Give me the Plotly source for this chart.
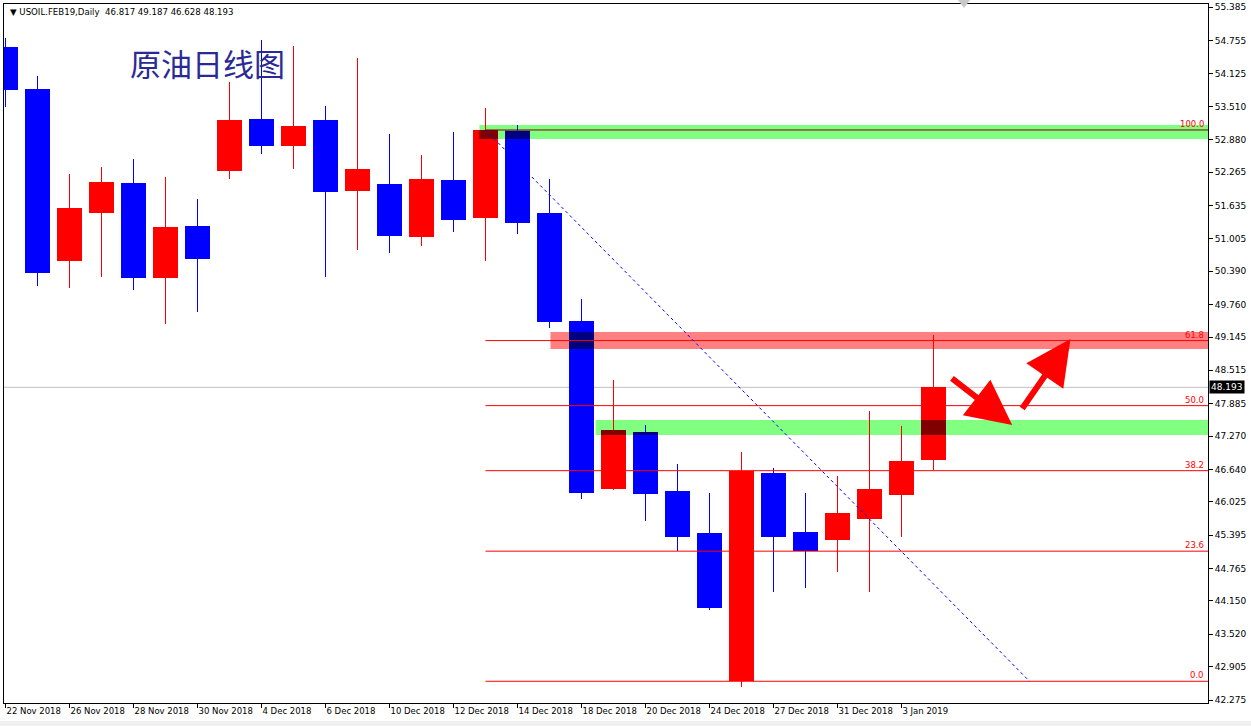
import plotly.graph_objects as go

# ---------------- data ----------------
SYMBOL = "USOIL.FEB19,Daily"
TITLE_CN = "原油日线图"
DATES = ["22 Nov 2018", "23 Nov 2018", "26 Nov 2018", "27 Nov 2018", "28 Nov 2018",
         "29 Nov 2018", "30 Nov 2018", "3 Dec 2018", "4 Dec 2018", "5 Dec 2018",
         "6 Dec 2018", "7 Dec 2018", "10 Dec 2018", "11 Dec 2018", "12 Dec 2018",
         "13 Dec 2018", "14 Dec 2018", "17 Dec 2018", "18 Dec 2018", "19 Dec 2018",
         "20 Dec 2018", "21 Dec 2018", "24 Dec 2018", "26 Dec 2018", "27 Dec 2018",
         "28 Dec 2018", "31 Dec 2018", "2 Jan 2019", "3 Jan 2019", "4 Jan 2019"]
OPEN = [54.639, 53.839, 50.589, 51.498, 52.060, 50.268, 51.246, 52.293, 53.271, 52.766,
        53.252, 51.914, 52.041, 51.044, 52.117, 51.403, 53.050, 51.492, 49.448, 46.275,
        47.348, 46.231, 45.436, 42.630, 46.572, 45.455, 45.309, 45.707, 46.161, 46.817]
HIGH = [54.798, 54.085, 52.230, 52.363, 52.514, 52.173, 51.757, 53.971, 54.766, 54.653,
        53.517, 54.426, 52.987, 52.590, 53.025, 53.479, 53.158, 52.136, 49.865, 48.332,
        47.480, 46.742, 46.193, 46.969, 46.666, 46.193, 46.515, 47.745, 47.461, 49.187]
LOW = [53.504, 50.111, 50.078, 50.281, 50.041, 49.397, 49.624, 52.141, 52.614, 52.330,
       50.281, 50.798, 50.741, 50.873, 51.138, 50.589, 51.100, 49.321, 46.085, 46.250,
       45.663, 45.096, 43.973, 42.527, 44.325, 44.401, 44.704, 44.325, 45.366, 46.628]
CLOSE = [53.820, 50.362, 51.587, 52.079, 50.268, 51.227, 50.627, 53.252, 52.766, 53.139,
         51.895, 52.325, 51.063, 52.136, 51.365, 53.063, 51.309, 49.435, 46.199, 47.385,
         46.180, 45.366, 44.017, 46.604, 45.366, 45.096, 45.815, 46.269, 46.799, 48.193]

Y_TICKS = [55.385, 54.755, 54.125, 53.510, 52.880, 52.265, 51.635, 51.005, 50.390,
           49.760, 49.145, 48.515, 47.885, 47.270, 46.640, 46.025, 45.395, 44.765,
           44.150, 43.520, 42.905, 42.275]

# Fibonacci retracement (anchor bars / prices)
FIB_START_IDX, FIB_END_IDX = 15, 32
FIB_HIGH, FIB_LOW = 53.063, 42.630
FIB_LEVELS = [0.0, 23.6, 38.2, 50.0, 61.8, 100.0]

# zones drawn on chart: (start bar, low price, high price, colour)
ZONES = [(14.81, 52.893, 53.158, (128, 255, 128)),
         (17.03, 48.918, 49.240, (255, 128, 128)),
         (18.44, 47.291, 47.575, (128, 255, 128))]

# hand-drawn arrows: (tail x, tail y, tip x, tip y)
ARROWS = [(29.53, 48.383, 31.46, 47.48),
          (31.74, 47.764, 33.28, 49.107)]

# ---------------- layout constants ----------------
W, H = 1251, 726
ML, MR, MT, MB = 4, 43, 4, 23
PW = W - ML - MR
PH = H - MT - MB
BAR_PX = 32.0
X0 = -1.5 / BAR_PX
X_RANGE = [X0, X0 + PW / BAR_PX]
Y_RANGE = [42.219, 55.447]
BODY_W = 25 / BAR_PX
WICK_W = 1 / BAR_PX

UP = (255, 0, 0)
DOWN = (0, 0, 255)


def rgb(c):
    return "rgb(%d,%d,%d)" % c


n = len(OPEN)
idx = list(range(n))
cols = [UP if CLOSE[i] >= OPEN[i] else DOWN for i in idx]
body_lo = [min(OPEN[i], CLOSE[i]) for i in idx]
body_hi = [max(OPEN[i], CLOSE[i]) for i in idx]

fig = go.Figure()

# wicks
fig.add_trace(go.Bar(
    x=idx, base=LOW, y=[HIGH[i] - LOW[i] for i in idx], width=WICK_W,
    marker=dict(color=[rgb(c) for c in cols], line=dict(width=0)),
    hoverinfo="skip", showlegend=False))
# bodies
fig.add_trace(go.Bar(
    x=idx, base=body_lo, y=[body_hi[i] - body_lo[i] for i in idx], width=BODY_W,
    marker=dict(color=[rgb(c) for c in cols], line=dict(width=0)),
    hoverinfo="skip", showlegend=False))

shapes = []
x_end = X_RANGE[1]

# current price line
shapes.append(dict(type="line", xref="paper", yref="y", x0=0, x1=1,
                   y0=CLOSE[-1], y1=CLOSE[-1], layer="below",
                   line=dict(color="#c0c0c0", width=1)))

# zones (below candles)
for (xs, lo, hi, c) in ZONES:
    shapes.append(dict(type="rect", xref="x", yref="y", x0=xs, x1=x_end + 0.15,
                       y0=lo, y1=hi, layer="below", line=dict(width=0),
                       fillcolor=rgb(c)))

# overlap of candle bodies with zones (AND-blended, as in the terminal)
for (xs, lo, hi, zc) in ZONES:
    for i in idx:
        bx0, bx1 = i - BODY_W / 2, i + BODY_W / 2
        ox0, ox1 = max(bx0, xs), bx1
        oy0, oy1 = max(body_lo[i], lo), min(body_hi[i], hi)
        if ox1 > ox0 and oy1 > oy0:
            c = tuple(a & b for a, b in zip(cols[i], zc))
            shapes.append(dict(type="rect", xref="x", yref="y", x0=ox0, x1=ox1,
                               y0=oy0, y1=oy1, layer="above", line=dict(width=0),
                               fillcolor=rgb(c)))

# fibonacci levels
annotations = []
for lv in FIB_LEVELS:
    p = FIB_LOW + lv / 100.0 * (FIB_HIGH - FIB_LOW)
    lc = "#800000" if lv == 100.0 else "#ff0000"
    shapes.append(dict(type="line", xref="x", yref="y", x0=FIB_START_IDX, x1=x_end,
                       y0=p, y1=p, layer="above", line=dict(color=lc, width=1)))
    annotations.append(dict(xref="paper", yref="y", x=1, y=p, xanchor="right",
                            yanchor="bottom", xshift=-2, yshift=-1,
                            text="%.1f" % lv, showarrow=False,
                            font=dict(family="DejaVu Sans", size=8.5, color="#ff0000")))

# fib trend (dotted diagonal)
shapes.append(dict(type="line", xref="x", yref="y", x0=FIB_START_IDX, x1=FIB_END_IDX,
                   y0=FIB_HIGH, y1=FIB_LOW, layer="above",
                   line=dict(color="#0000ff", width=1, dash="dot")))


def px2paper(px, py):
    return ((px - ML) / PW, 1 - (py - MT) / PH)


# small grey marker at top
a = px2paper(958, 0); b = px2paper(970, 0); c3 = px2paper(964, 8)
shapes.append(dict(type="path", xref="paper", yref="paper",
                   path="M %f %f L %f %f L %f %f Z" % (a[0], a[1], b[0], b[1], c3[0], c3[1]),
                   fillcolor="#c8c8c8", line=dict(width=0), layer="above"))
# bottom grey strip
g0 = px2paper(0, 721); g1 = px2paper(W, H)
shapes.append(dict(type="rect", xref="paper", yref="paper", x0=g0[0], x1=g1[0],
                   y0=g1[1], y1=g0[1], fillcolor="#f0f0f0", line=dict(width=0)))

# arrows
for (tx, ty, hx, hy) in ARROWS:
    annotations.append(dict(xref="x", yref="y", axref="x", ayref="y",
                            x=hx, y=hy, ax=tx, ay=ty, text="", showarrow=True,
                            arrowhead=2, arrowsize=1.5, arrowwidth=6,
                            arrowcolor="#ff0000"))

# header text
hx, hy = px2paper(8, 12)
annotations.append(dict(xref="paper", yref="paper", x=hx, y=hy, xanchor="left",
                        yanchor="middle", showarrow=False,
                        text="▼ %s  %.3f %.3f %.3f %.3f" % (SYMBOL, OPEN[-1], HIGH[-1], LOW[-1], CLOSE[-1]),
                        font=dict(family="DejaVu Sans", size=8.6, color="#000000")))
# Chinese title
tx_, ty_ = px2paper(128, 62)
annotations.append(dict(xref="paper", yref="paper", x=tx_, y=ty_, xanchor="left",
                        yanchor="middle", showarrow=False, text=TITLE_CN,
                        font=dict(family="Noto Sans CJK SC", size=31, color="#2a2a96")))
# current price tag
annotations.append(dict(xref="paper", yref="y", x=1, y=CLOSE[-1], xanchor="left",
                        yanchor="middle", xshift=1, showarrow=False,
                        text="%.3f" % CLOSE[-1], bgcolor="#000000", borderpad=1,
                        font=dict(family="DejaVu Sans", size=9, color="#ffffff")))

fig.update_layout(
    width=W, height=H,
    margin=dict(l=ML, r=MR, t=MT, b=MB, pad=0, autoexpand=False),
    paper_bgcolor="#ffffff", plot_bgcolor="#ffffff",
    barmode="overlay", bargap=0, showlegend=False,
    shapes=shapes, annotations=annotations,
    xaxis=dict(range=X_RANGE, showgrid=False, zeroline=False, automargin=False,
               tickmode="array", tickvals=idx[::2], ticktext=DATES[::2],
               ticks="outside", ticklen=4, tickcolor="#000000",
               ticklabelposition="outside right",
               tickfont=dict(family="DejaVu Sans", size=8.5, color="#000000"),
               showline=True, mirror=True, linecolor="#000000", linewidth=1,
               fixedrange=True),
    yaxis=dict(range=Y_RANGE, side="right", showgrid=False, zeroline=False,
               automargin=False,
               tickmode="array", tickvals=Y_TICKS,
               ticktext=["%.3f" % v for v in Y_TICKS],
               ticks="outside", ticklen=4, tickcolor="#000000",
               tickfont=dict(family="DejaVu Sans", size=9, color="#000000"),
               showline=True, mirror=True, linecolor="#000000", linewidth=1,
               fixedrange=True),
)

fig.write_html("out.html", config={"displayModeBar": False},
               post_script="document.body.style.margin='0';document.body.style.overflow='hidden';")
